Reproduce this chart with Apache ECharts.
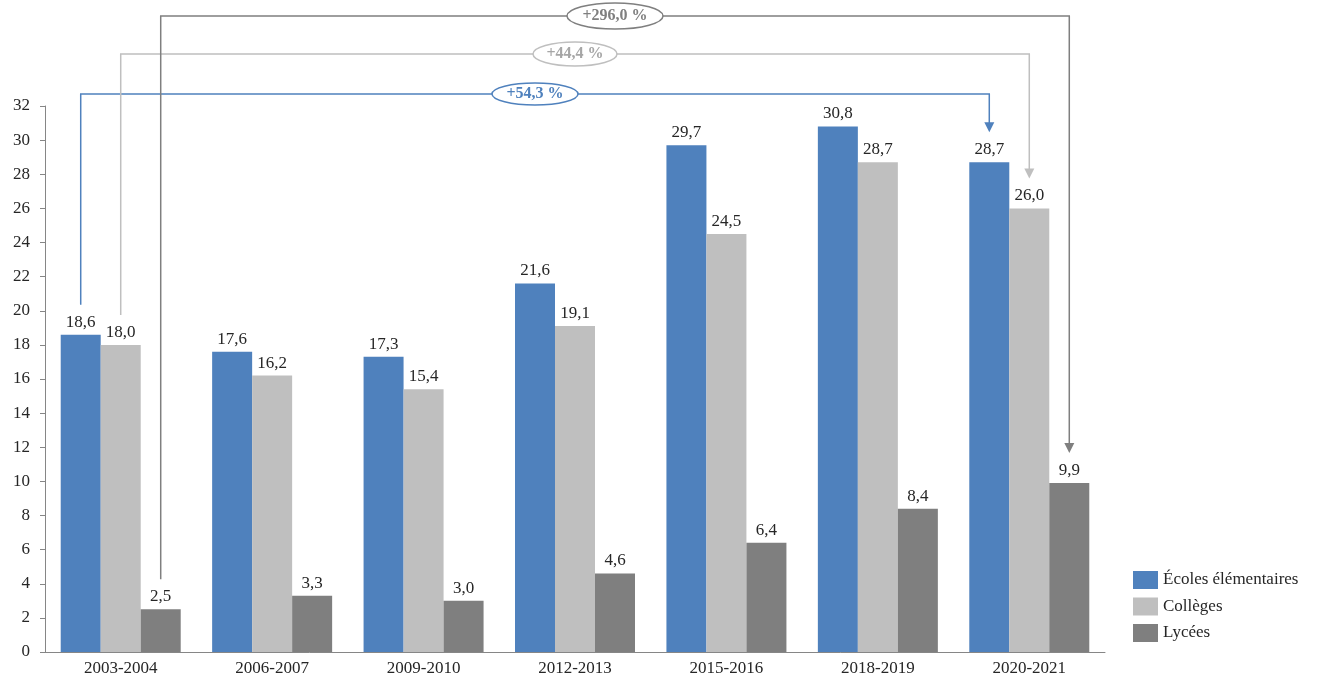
<!DOCTYPE html>
<html>
<head>
<meta charset="utf-8">
<script src="https://cdn.jsdelivr.net/npm/echarts@6/dist/echarts.min.js"></script>
<style>html,body{margin:0;padding:0;background:#fff}#c{width:1322px;height:688px}</style>
</head>
<body>
<div id="c"></div>
<script>
const categories = ['2003-2004','2006-2007','2009-2010','2012-2013','2015-2016','2018-2019','2020-2021'];
const seriesNames = ['Écoles élémentaires','Collèges','Lycées'];
const ecoles = [18.6, 17.6, 17.3, 21.6, 29.7, 30.8, 28.7];
const colleges = [18.0, 16.2, 15.4, 19.1, 24.5, 28.7, 26.0];
const lycees = [2.5, 3.3, 3.0, 4.6, 6.4, 8.4, 9.9];
const yTicks = [0,2,4,6,8,10,12,14,16,18,20,22,24,26,28,30,32];
// evolution annotations: series index, from category, to category, label
const evoSeries = [0, 1, 2];
const evoFrom = [0, 0, 0];
const evoTo = [6, 6, 6];
const evoLabels = ['+54,3 %', '+44,4 %', '+296,0 %'];

const FONT = '"Liberation Serif", serif';
const colors = ['#4F81BD', '#BFBFBF', '#7F7F7F'];
const evoTextColors = ['#4F81BD', '#A6A6A6', '#7F7F7F'];
const evoLevelAbove = [12, 52, 90]; // px above plot top
const evoRx = [43, 42, 48];
const evoRy = [11, 12, 13];

const chart = echarts.init(document.getElementById('c'), null, {renderer: 'canvas'});
const fmt = v => v.toFixed(1).replace('.', ',');
const mk = (name, data, i) => ({
  name, type: 'bar', data, barWidth: 40, barGap: '0%',
  itemStyle: {color: colors[i]},
  label: {show: true, position: 'top', distance: 4, formatter: p => fmt(p.value),
          fontFamily: FONT, fontSize: 17, color: '#262626'}
});
chart.setOption({
  animation: false,
  grid: {left: 45, right: 217, top: 106, bottom: 36},
  legend: {
    orient: 'vertical', left: 1128, top: 566, itemWidth: 25, itemHeight: 18, itemGap: 8.5,
    icon: 'rect', textStyle: {fontFamily: FONT, fontSize: 17, color: '#262626'},
    data: seriesNames
  },
  xAxis: {
    type: 'category', data: categories,
    axisLine: {lineStyle: {color: '#868686', width: 1}},
    axisTick: {show: false},
    axisLabel: {fontFamily: FONT, fontSize: 17, color: '#262626', margin: 8}
  },
  yAxis: {
    type: 'value', min: yTicks[0], max: yTicks[yTicks.length-1], interval: 2,
    axisLine: {show: true, lineStyle: {color: '#868686', width: 1}},
    axisTick: {show: true, length: 5, lineStyle: {color: '#868686'}},
    splitLine: {show: false},
    axisLabel: {fontFamily: FONT, fontSize: 17, color: '#262626', margin: 15}
  },
  series: [mk(seriesNames[0], ecoles, 0), mk(seriesNames[1], colleges, 1), mk(seriesNames[2], lycees, 2)]
});

function barTop(si, idx) {
  let lay = null;
  try { lay = chart.getModel().getSeriesByIndex(si).getData().getItemLayout(idx); } catch (e) {}
  if (lay) {
    return {x: lay.x + lay.width / 2, y: Math.min(lay.y, lay.y + lay.height)};
  }
  const vals = [ecoles, colleges, lycees][si];
  const p = chart.convertToPixel({xAxisIndex: 0, yAxisIndex: 0}, [idx, vals[idx]]);
  return {x: p[0] + (si - 1) * 40, y: p[1]};
}

const plotTop = chart.convertToPixel({yAxisIndex: 0}, yTicks[yTicks.length-1]);
const elements = [];
evoSeries.forEach((si, k) => {
  const a = barTop(si, evoFrom[k]);
  const b = barTop(si, evoTo[k]);
  const ly = plotTop - evoLevelAbove[k];
  const y0 = a.y - 30;
  const y1 = b.y - 30;
  const c = colors[si];
  elements.push({type: 'polyline', z: 10, shape: {points: [[a.x, y0], [a.x, ly], [b.x, ly], [b.x, y1 - 9]]},
    style: {stroke: c, lineWidth: 1.5, fill: null}});
  elements.push({type: 'polygon', z: 10, shape: {points: [[b.x - 5, y1 - 10], [b.x + 5, y1 - 10], [b.x, y1]]},
    style: {fill: c}});
  const cx = (a.x + b.x) / 2;
  elements.push({type: 'ellipse', z: 11, shape: {cx: cx, cy: ly, rx: evoRx[k], ry: evoRy[k]},
    style: {fill: '#fff', stroke: c, lineWidth: 1.5}});
  elements.push({type: 'text', z: 12, x: cx, y: ly,
    style: {text: evoLabels[k], fill: evoTextColors[si], font: 'bold 16px ' + FONT, align: 'center', verticalAlign: 'middle'}});
});
chart.setOption({graphic: {elements}});
</script>
</body>
</html>
